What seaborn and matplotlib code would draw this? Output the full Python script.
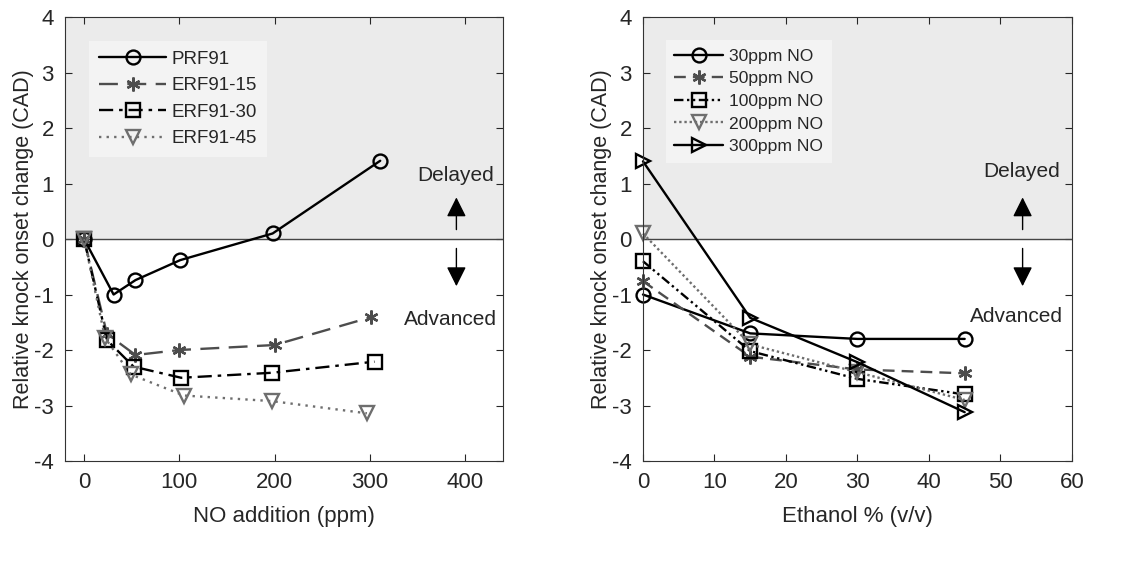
import pandas as pd
import seaborn as sns
import matplotlib.pyplot as plt

# left panel: knock onset change vs NO addition
prf91_no = [0, 31, 54, 101, 198, 311]
prf91_val = [0.0, -1.0, -0.74, -0.38, 0.10, 1.41]
erf15_no = [0, 24, 54, 100, 200, 301]
erf15_val = [0.0, -1.71, -2.09, -2.0, -1.91, -1.41]
erf30_no = [0, 24, 52, 102, 197, 305]
erf30_val = [0.0, -1.82, -2.3, -2.5, -2.41, -2.21]
erf45_no = [0, 22, 49, 105, 197, 297]
erf45_val = [0.0, -1.78, -2.44, -2.82, -2.92, -3.14]

# right panel: knock onset change vs ethanol content
ethanol = [0, 15, 30, 45]
no30 = [-1.0, -1.7, -1.8, -1.8]
no50 = [-0.76, -2.12, -2.35, -2.42]
no100 = [-0.4, -2.02, -2.52, -2.8]
no200 = [0.1, -1.9, -2.4, -2.9]
no300 = [1.4, -1.42, -2.22, -3.12]

sns.set_style('ticks')
plt.rcParams['font.family'] = ['Liberation Sans', 'DejaVu Sans']
plt.rcParams['font.size'] = 13
plt.rcParams['axes.unicode_minus'] = False

fig = plt.figure(figsize=(11.33, 5.77), dpi=100)
ax1 = fig.add_axes([0.0574, 0.201, 0.3866, 0.7695])
ax2 = fig.add_axes([0.5675, 0.201, 0.3786, 0.7695])

common = dict(estimator=None, markersize=10, markerfacecolor='none', mew=1.7, lw=1.7,
              clip_on=False)

left_series = [
    ('PRF91', prf91_no, prf91_val, 'o', '-', 'black'),
    ('ERF91-15', erf15_no, erf15_val, (6, 2, 0), (0, (8, 4)), '#4d4d4d'),
    ('ERF91-30', erf30_no, erf30_val, 's', (0, (6, 2.5, 1.5, 2.5)), 'black'),
    ('ERF91-45', erf45_no, erf45_val, 'v', (0, (1, 2.2)), '#6e6e6e'),
]
for name, xs, ys, mk, ls, col in left_series:
    df = pd.DataFrame({'x': xs, 'y': ys})
    sns.lineplot(data=df, x='x', y='y', ax=ax1, marker=mk, linestyle=ls, color=col,
                 markeredgecolor=col, label=name, **common)

right_series = [
    ('30ppm NO', no30, 'o', '-', 'black'),
    ('50ppm NO', no50, (6, 2, 0), (0, (5, 3)), '#4d4d4d'),
    ('100ppm NO', no100, 's', (0, (4, 1.5, 1, 1.5, 1, 1.5)), 'black'),
    ('200ppm NO', no200, 'v', (0, (1, 1.2)), '#6e6e6e'),
    ('300ppm NO', no300, '>', '-', 'black'),
]
for name, ys, mk, ls, col in right_series:
    df = pd.DataFrame({'x': ethanol, 'y': ys})
    sns.lineplot(data=df, x='x', y='y', ax=ax2, marker=mk, linestyle=ls, color=col,
                 markeredgecolor=col, label=name, **common)

for ax, hl, lsp, fs in ((ax1, 3.6, 0.5, 13.5), (ax2, 2.8, 0.42, 12.6)):
    ax.axhspan(0, 4, color='#ebebeb', zorder=0)
    ax.axhline(0, color='#444444', lw=1, zorder=1)
    ax.set_ylim(-4, 4)
    ax.set_yticks(range(-4, 5))
    ax.set_ylabel('Relative knock onset change (CAD)', fontsize=15.5, labelpad=0)
    ax.tick_params(direction='in', top=True, right=True, length=5, labelsize=16, pad=8)
    for sp in ax.spines.values():
        sp.set_visible(True)
        sp.set_color('#333333')
    ax.legend(loc='upper left', frameon=True, facecolor='#f3f3f3', edgecolor='none',
              framealpha=1, fancybox=False, handlelength=hl, fontsize=fs,
              labelspacing=lsp, handletextpad=0.3, borderaxespad=1.3, borderpad=0.5)

ax1.set_xlim(-20, 440)
ax1.set_xticks([0, 100, 200, 300, 400])
ax1.set_xlabel('NO addition (ppm)', fontsize=16, labelpad=9)
ax2.set_xlim(0, 60)
ax2.set_xticks(range(0, 61, 10))
ax2.set_xlabel('Ethanol % (v/v)', fontsize=16, labelpad=9)

# delayed / advanced annotations
arrow = dict(arrowstyle='-|>,head_length=0.6,head_width=0.3', color='black', lw=1,
             mutation_scale=20)
ax1.text(390, 1.15, 'Delayed', ha='center', va='center', fontsize=15)
ax1.text(385, -1.45, 'Advanced', ha='center', va='center', fontsize=15)
ax1.annotate('', xy=(391, 0.8), xytext=(391, 0.12), arrowprops=arrow)
ax1.annotate('', xy=(391, -0.9), xytext=(391, -0.12), arrowprops=arrow)
ax2.text(53, 1.22, 'Delayed', ha='center', va='center', fontsize=15)
ax2.text(52.2, -1.39, 'Advanced', ha='center', va='center', fontsize=15)
ax2.annotate('', xy=(53.1, 0.8), xytext=(53.1, 0.12), arrowprops=arrow)
ax2.annotate('', xy=(53.1, -0.9), xytext=(53.1, -0.12), arrowprops=arrow)

fig.savefig('out.png', dpi=100)
